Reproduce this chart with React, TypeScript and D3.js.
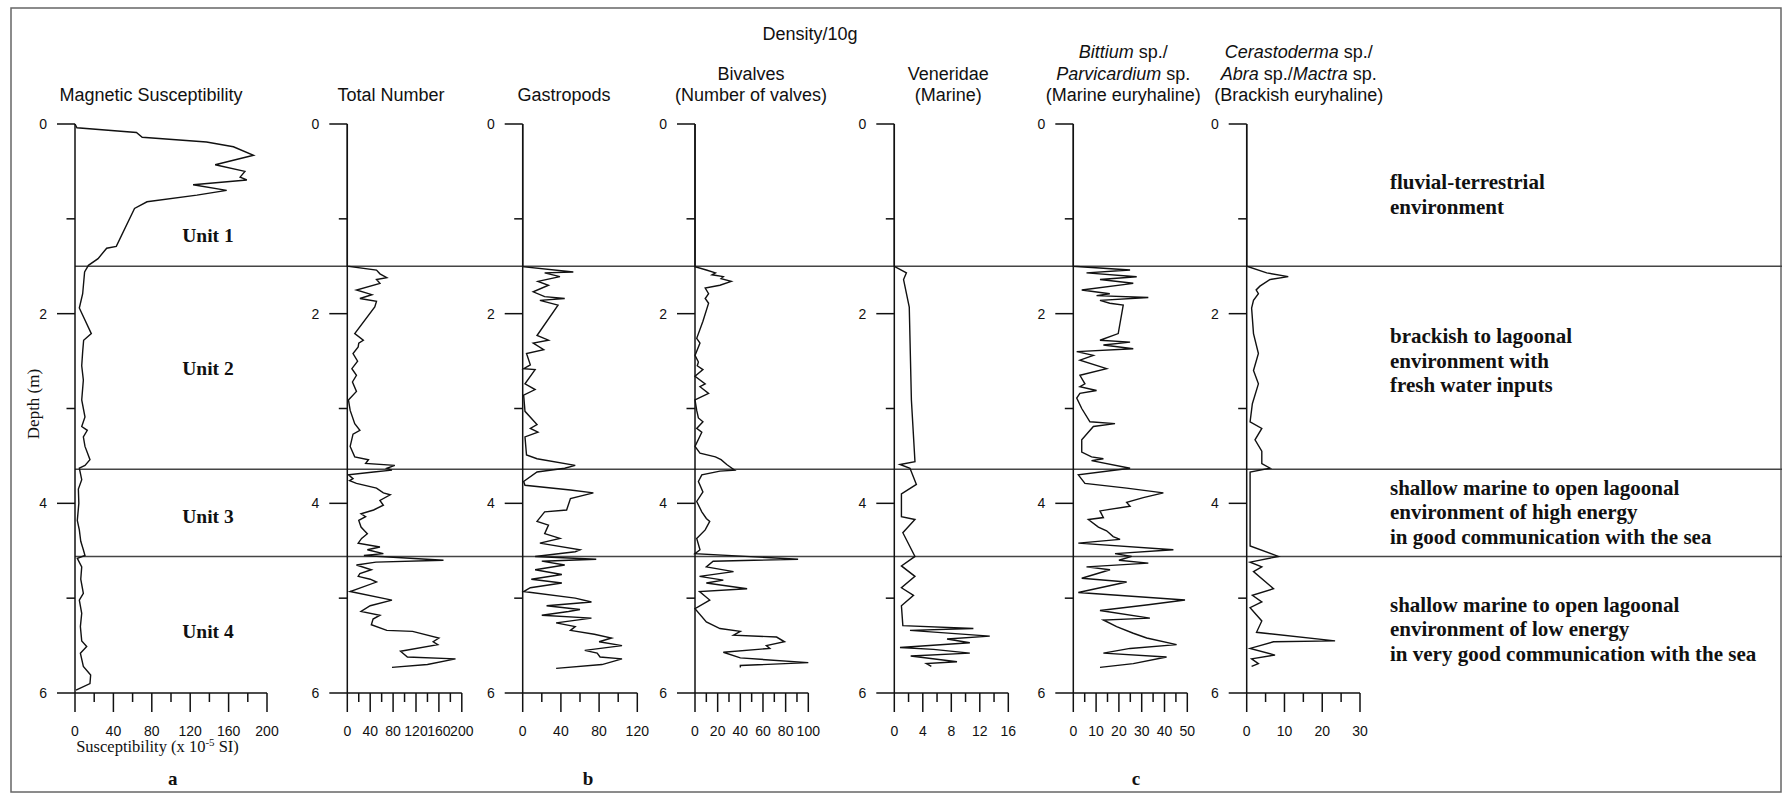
import React from 'react';
import * as d3 from 'd3';

type P = [number, number]; // [depth (m), value]

const depthMajor = [0, 2, 4, 6];
const depthMinor = [1, 3, 5];
const unitBoundaries = [1.5, 3.64, 4.56];
const unitNames = ['Unit 1', 'Unit 2', 'Unit 3', 'Unit 4'];

const envTexts: string[][] = [
  ['fluvial-terrestrial', 'environment'],
  ['brackish to lagoonal', 'environment with', 'fresh water inputs'],
  ['shallow marine to open lagoonal', 'environment of high energy', 'in good communication with the sea'],
  ['shallow marine to open lagoonal', 'environment of low energy', 'in very good communication with the sea'],
];

const magData: P[] = [
  [0, 0], [0.04, 2], [0.09, 64], [0.14, 70], [0.19, 137], [0.24, 165], [0.33, 186], [0.43, 146], [0.5, 177],
  [0.56, 172], [0.59, 179], [0.64, 123], [0.7, 158], [0.75, 127], [0.82, 75], [0.89, 62], [1.29, 43], [1.31, 33],
  [1.42, 24], [1.49, 14], [1.56, 10], [1.79, 8], [1.94, 4.5], [2.21, 17], [2.28, 9], [2.4, 8], [2.55, 7], [2.7, 8.7],
  [2.91, 7], [3.09, 10.4], [3.19, 7], [3.23, 12.8], [3.3, 8.7], [3.4, 10.4], [3.54, 15.6], [3.6, 10.4], [3.63, 4.5],
  [3.75, 7], [3.85, 3.5], [4.0, 4], [4.18, 2.4], [4.28, 4.5], [4.4, 6], [4.49, 8.7], [4.55, 10.4], [4.58, 2.4],
  [4.67, 7], [4.8, 6], [4.95, 8.7], [5.02, 4.5], [5.16, 7], [5.3, 5.6], [5.45, 7], [5.51, 12.2], [5.58, 5.6],
  [5.72, 8.7], [5.81, 16.3], [5.9, 15.6], [5.97, 1],
];

const totalData: P[] = [
  [0, 0], [1.5, 0], [1.54, 51], [1.58, 57], [1.62, 69], [1.64, 51], [1.68, 57], [1.75, 16], [1.8, 43], [1.84, 22],
  [1.87, 51], [1.93, 48], [2.21, 13], [2.28, 28], [2.31, 20], [2.35, 19], [2.42, 10], [2.5, 18], [2.58, 8], [2.65, 16],
  [2.72, 9], [2.82, 16], [2.91, 2], [3.02, 5], [3.16, 13], [3.23, 22], [3.27, 10], [3.4, 5], [3.51, 13], [3.54, 37],
  [3.58, 32], [3.6, 83], [3.63, 69], [3.65, 78], [3.67, 46], [3.7, 2], [3.74, 10], [3.76, 4], [3.79, 16], [3.84, 51],
  [3.89, 63], [3.91, 75], [3.97, 57], [4.02, 63], [4.07, 46], [4.11, 24], [4.14, 32], [4.18, 20], [4.25, 24],
  [4.29, 30], [4.32, 35], [4.37, 25], [4.42, 19], [4.46, 57], [4.49, 35], [4.53, 63], [4.55, 29], [4.6, 168],
  [4.62, 50], [4.65, 16], [4.7, 42], [4.74, 22], [4.77, 19], [4.8, 40], [4.83, 51], [4.93, 5], [5.02, 78], [5.08, 40],
  [5.14, 24], [5.18, 57], [5.22, 45], [5.28, 42], [5.34, 69], [5.35, 114], [5.42, 160], [5.46, 150], [5.49, 158],
  [5.56, 93], [5.62, 105], [5.64, 189], [5.7, 140], [5.73, 78],
];

const gastroData: P[] = [
  [0, 0], [1.505, 0], [1.56, 53], [1.57, 23], [1.61, 39], [1.66, 16], [1.7, 27], [1.77, 11], [1.82, 23], [1.84, 44],
  [1.86, 18], [1.91, 37], [2.23, 15], [2.28, 27], [2.31, 11], [2.38, 22], [2.42, 4], [2.54, 8], [2.58, 1], [2.59, 13],
  [2.74, 2.4], [2.8, 13], [2.86, 1], [3.03, 2.4], [3.17, 15], [3.21, 8], [3.25, 16], [3.3, 2.4], [3.49, 4], [3.53, 15],
  [3.6, 55], [3.63, 44], [3.67, 15], [3.77, 1], [3.81, 2.4], [3.86, 50], [3.89, 74], [3.95, 50], [4.07, 46], [4.09, 23],
  [4.19, 15], [4.23, 27], [4.32, 23], [4.37, 39], [4.42, 18], [4.49, 60], [4.51, 55], [4.56, 13], [4.59, 77],
  [4.61, 20], [4.65, 44], [4.7, 13], [4.75, 41], [4.8, 9], [4.84, 41], [4.89, 8], [4.93, 1], [5.0, 55], [5.04, 72],
  [5.08, 25], [5.12, 60], [5.14, 48], [5.18, 20], [5.21, 72], [5.26, 35], [5.3, 55], [5.34, 50], [5.38, 75], [5.42, 93],
  [5.46, 80], [5.5, 104], [5.55, 65], [5.58, 78], [5.62, 81], [5.64, 104], [5.7, 83], [5.74, 35],
];

const bivalveData: P[] = [
  [0, 0], [1.505, 0], [1.54, 10], [1.57, 18], [1.59, 15], [1.61, 25], [1.63, 23], [1.66, 32], [1.7, 22], [1.73, 9],
  [1.79, 12], [1.84, 9], [1.89, 12], [2.08, 7], [2.26, 1.5], [2.31, 4.4], [2.44, 0], [2.51, 3], [2.55, 2], [2.59, 7],
  [2.66, 0], [2.74, 9], [2.77, 4.4], [2.84, 12], [2.91, 0], [3.02, 1.5], [3.1, 3], [3.14, 7], [3.21, 1.5], [3.25, 6],
  [3.4, 0], [3.47, 4.4], [3.51, 18], [3.54, 23], [3.59, 28], [3.65, 35], [3.66, 22], [3.7, 6], [3.77, 3], [3.88, 7],
  [3.98, 1.5], [4.09, 6], [4.16, 10], [4.19, 13], [4.28, 9], [4.37, 1.5], [4.49, 4.4], [4.53, 0], [4.59, 91],
  [4.61, 16], [4.67, 10], [4.72, 34], [4.77, 4], [4.81, 25], [4.84, 10], [4.9, 46], [4.93, 4], [5.02, 13], [5.11, 0],
  [5.25, 10], [5.32, 22], [5.35, 40], [5.39, 34], [5.41, 72], [5.46, 79], [5.5, 63], [5.53, 66], [5.57, 25], [5.63, 40],
  [5.68, 100], [5.71, 40], [5.73, 40],
];

const venerData: P[] = [
  [0, 0], [1.5, 0], [1.57, 1.7], [1.64, 1.3], [1.93, 2.1], [2.91, 2.4], [3.56, 2.9], [3.59, 0.8], [3.63, 2.2],
  [3.8, 3.1], [3.9, 1.0], [4.14, 1.0], [4.17, 2.9], [4.31, 1.2], [4.56, 2.9], [4.66, 1.0], [4.77, 2.9], [4.89, 1.0],
  [4.97, 2.7], [5.08, 1.0], [5.29, 1.2], [5.32, 11.1], [5.34, 2.2], [5.4, 13.4], [5.43, 7.4], [5.47, 10.6],
  [5.52, 0.8], [5.54, 5.5], [5.58, 10.6], [5.61, 2.3], [5.67, 8.8], [5.69, 4.5], [5.72, 5.2],
];

const bittiumData: P[] = [
  [0, 0], [1.5, 0], [1.54, 24.9], [1.57, 5.8], [1.61, 27.8], [1.64, 11.7], [1.68, 26.3], [1.75, 3.7], [1.79, 16],
  [1.81, 10.2], [1.83, 32.9], [1.86, 11.7], [1.89, 16], [1.91, 21.9], [2.21, 19.7], [2.28, 11.7], [2.3, 24.9],
  [2.33, 13.2], [2.37, 26.3], [2.4, 1.5], [2.44, 8.8], [2.49, 2.9], [2.58, 14.6], [2.65, 2.9], [2.74, 5.1],
  [2.77, 2.9], [2.81, 10.2], [2.84, 2.9], [2.89, 1.5], [3.0, 3.7], [3.14, 7.3], [3.16, 18.3], [3.19, 8.8],
  [3.33, 3.7], [3.46, 3.7], [3.51, 8], [3.53, 13.2], [3.55, 8], [3.63, 24.9], [3.7, 2.2], [3.79, 5.1], [3.84, 23.4],
  [3.89, 39.5], [3.94, 30.7], [3.99, 23.4], [4.03, 24.9], [4.08, 11.7], [4.15, 13.2], [4.17, 6.6], [4.25, 11],
  [4.29, 14.6], [4.35, 17.5], [4.38, 20.5], [4.42, 2.2], [4.49, 43.9], [4.53, 18.3], [4.56, 25.6], [4.6, 20],
  [4.63, 32.9], [4.67, 5.8], [4.7, 16.1], [4.79, 3.7], [4.83, 23.4], [4.94, 2.2], [5.02, 49], [5.07, 32.9],
  [5.13, 11.7], [5.21, 33.6], [5.23, 13.2], [5.3, 19], [5.37, 26.3], [5.42, 32.2], [5.49, 45.3], [5.53, 24.9],
  [5.58, 13.2], [5.62, 40.9], [5.69, 26.3], [5.73, 11.7],
];

const cerastoData: P[] = [
  [0, 0], [1.5, 0], [1.57, 5.3], [1.61, 11], [1.64, 6.2], [1.71, 3.5], [1.75, 2.5], [1.79, 3.1], [1.86, 1.8],
  [1.94, 1.3], [2.21, 1.8], [2.42, 3.1], [2.6, 1.8], [2.74, 3.1], [2.95, 1.5], [3.14, 0.9], [3.21, 4], [3.33, 2.2],
  [3.45, 4], [3.58, 4], [3.63, 6.2], [3.67, 0.9], [4.45, 0.9], [4.56, 8.4], [4.62, 0.9], [4.67, 4], [4.72, 1.8],
  [4.9, 7.1], [4.97, 1.5], [5.04, 4], [5.1, 0.9], [5.24, 4], [5.36, 2.6], [5.45, 23.4], [5.46, 7.1], [5.53, 0.9],
  [5.6, 7.5], [5.64, 1.3], [5.69, 3.1], [5.72, 1.3],
];

type Seg = [string, boolean];
interface Panel {
  data: P[]; max: number; major: number; minor: number;
  x0: number; w: number; titleX: number; title: Seg[][];
}

const panels: Panel[] = [
  { data: magData, max: 200, major: 40, minor: 20, x0: 75, w: 192, titleX: 151, title: [[['Magnetic Susceptibility', false]]] },
  { data: totalData, max: 200, major: 40, minor: 20, x0: 347.3, w: 114.5, titleX: 391, title: [[['Total Number', false]]] },
  { data: gastroData, max: 120, major: 40, minor: 20, x0: 522.7, w: 114.6, titleX: 564, title: [[['Gastropods', false]]] },
  { data: bivalveData, max: 100, major: 20, minor: 10, x0: 695, w: 113.3, titleX: 751, title: [[['Bivalves', false]], [['(Number of valves)', false]]] },
  { data: venerData, max: 16, major: 4, minor: 2, x0: 894.3, w: 114, titleX: 948.3, title: [[['Veneridae', false]], [['(Marine)', false]]] },
  { data: bittiumData, max: 50, major: 10, minor: 5, x0: 1073.3, w: 114, titleX: 1123.3,
    title: [[['Bittium', true], [' sp./', false]], [['Parvicardium', true], [' sp.', false]], [['(Marine euryhaline)', false]]] },
  { data: cerastoData, max: 30, major: 10, minor: 5, x0: 1246.7, w: 113.3, titleX: 1298.7,
    title: [[['Cerastoderma', true], [' sp./', false]], [['Abra', true], [' sp./', false], ['Mactra', true], [' sp.', false]], [['(Brackish euryhaline)', false]]] },
];

const SANS = '"Liberation Sans", Arial, Helvetica, sans-serif';
const SERIF = '"Liberation Serif", "Times New Roman", serif';

export default function App() {
  const y = d3.scaleLinear().domain([0, 6]).range([124, 693]);
  const yTop = y(0), yBot = y(6);
  const unitLabelY = [241.7, 375, 523, 638];
  const envY0 = [189, 343, 495, 611.7];
  const envDy = [24.5, 24.5, 24.3, 24.5];

  return (
    <svg width={1782} height={793} style={{ position: 'absolute', left: 0, top: 0, background: '#fff' }}>
      <rect x={0} y={0} width={1782} height={793} fill="#fff" />
      <rect x={11} y={8} width={1770} height={784} fill="none" stroke="#666" strokeWidth={1.5} />

      <text x={810} y={40} fontFamily={SANS} fontSize={18} textAnchor="middle" fill="#111">Density/10g</text>

      {unitBoundaries.map((d, i) => (
        <line key={'ub' + i} x1={75} x2={1782} y1={y(d)} y2={y(d)} stroke="#444" strokeWidth={1.6} />
      ))}

      {panels.map((p, pi) => {
        const x = d3.scaleLinear().domain([0, p.max]).range([p.x0, p.x0 + p.w]);
        const line = d3.line<P>().x(d => x(d[1])).y(d => y(d[0]));
        const majors = d3.range(0, p.max + 1e-9, p.major);
        const minors = d3.range(p.minor, p.max, p.major);
        const nLines = p.title.length;
        return (
          <g key={'p' + pi}>
            {p.title.map((ln, li) => (
              <text key={li} x={p.titleX} y={101 - (nLines - 1 - li) * 21.5} fontFamily={SANS} fontSize={18}
                textAnchor="middle" fill="#111">
                {ln.map((s, si) => (
                  <tspan key={si} fontStyle={s[1] ? 'italic' : 'normal'}>{s[0]}</tspan>
                ))}
              </text>
            ))}
            {/* depth axis */}
            <line x1={p.x0} x2={p.x0} y1={yTop} y2={yBot} stroke="#111" strokeWidth={1.5} />
            {depthMajor.map(t => (
              <g key={'dm' + t}>
                <line x1={p.x0 - 18} x2={p.x0} y1={y(t)} y2={y(t)} stroke="#111" strokeWidth={1.5} />
                <text x={p.x0 - 28} y={y(t)} dy="0.36em" fontFamily={SANS} fontSize={14} textAnchor="end" fill="#111">{t}</text>
              </g>
            ))}
            {depthMinor.map(t => (
              <line key={'dn' + t} x1={p.x0 - 8.5} x2={p.x0} y1={y(t)} y2={y(t)} stroke="#111" strokeWidth={1.5} />
            ))}
            {/* value axis */}
            <line x1={p.x0} x2={p.x0 + p.w} y1={yBot} y2={yBot} stroke="#111" strokeWidth={1.5} />
            {majors.map(t => (
              <g key={'vm' + t}>
                <line x1={x(t)} x2={x(t)} y1={yBot} y2={yBot + 19} stroke="#111" strokeWidth={1.5} />
                <text x={x(t)} y={736} fontFamily={SANS} fontSize={14} textAnchor="middle" fill="#111">{t}</text>
              </g>
            ))}
            {minors.map(t => (
              <line key={'vn' + t} x1={x(t)} x2={x(t)} y1={yBot} y2={yBot + 9} stroke="#111" strokeWidth={1.5} />
            ))}
            <path d={line(p.data) || ''} fill="none" stroke="#111" strokeWidth={1.4} strokeLinejoin="miter" />
          </g>
        );
      })}

      {unitNames.map((u, i) => (
        <text key={u} x={208} y={unitLabelY[i]} fontFamily={SERIF} fontWeight="bold" fontSize={19.5}
          textAnchor="middle" fill="#111">{u}</text>
      ))}

      {envTexts.map((lines, i) => (
        <text key={'env' + i} fontFamily={SERIF} fontWeight="bold" fontSize={21} fill="#111">
          {lines.map((l, li) => (
            <tspan key={li} x={1390} y={envY0[i] + li * envDy[i]}>{l}</tspan>
          ))}
        </text>
      ))}

      <text transform={`translate(39,404) rotate(-90)`} fontFamily={SERIF} fontSize={17} textAnchor="middle" fill="#111">Depth (m)</text>

      <text x={157.5} y={752} fontFamily={SERIF} fontSize={16.5} textAnchor="middle" fill="#111">
        Susceptibility (x 10<tspan dy={-6} fontSize={11}>-5</tspan><tspan dy={6}> SI)</tspan>
      </text>

      <text x={172.7} y={785} fontFamily={SERIF} fontWeight="bold" fontSize={19} textAnchor="middle" fill="#111">a</text>
      <text x={588} y={785} fontFamily={SERIF} fontWeight="bold" fontSize={19} textAnchor="middle" fill="#111">b</text>
      <text x={1136} y={785} fontFamily={SERIF} fontWeight="bold" fontSize={19} textAnchor="middle" fill="#111">c</text>
    </svg>
  );
}
